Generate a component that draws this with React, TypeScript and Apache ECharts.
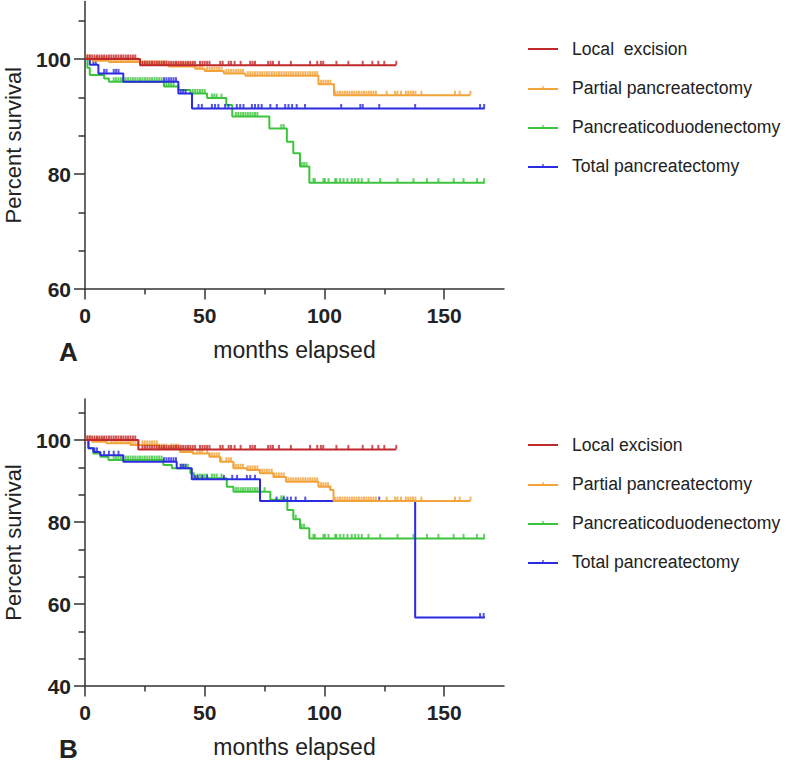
import React, { useEffect, useRef } from 'react';
import * as echarts from 'echarts';

const FONT = '"Liberation Sans", Arial, Helvetica, sans-serif';

const groupsA = ['Local  excision', 'Partial pancreatectomy', 'Pancreaticoduodenectomy', 'Total pancreatectomy'];
const groupsB = ['Local excision', 'Partial pancreatectomy', 'Pancreaticoduodenectomy', 'Total pancreatectomy'];
const colors = ['#c0282c', '#f2a33a', '#3cc43c', '#2b2be0'];

const xTicks = [0, 50, 100, 150];
const xMinorTicks = [25, 75, 125];
const yTicksA = [60, 80, 100];
const yMinorTicksA = [66.667, 73.333, 86.667, 93.333, 106.667];
const yTicksB = [40, 60, 80, 100];
const yMinorTicksB = [46.667, 53.333, 66.667, 73.333, 86.667, 93.333, 106.667];

// ---------- Panel A ----------
const redTimesA = [0, 23, 130];
const redSurvA = [100, 98.9, 98.9];
const orangeTimesA = [0, 3, 10, 23, 35, 46, 50, 58, 67, 97.5, 104, 161];
const orangeSurvA = [100, 99.7, 99.5, 99.0, 98.7, 98.3, 97.9, 97.5, 97.1, 95.6, 93.7, 93.7];
const greenTimesA = [0, 1, 2, 8, 10, 33, 39, 44, 51, 59, 61.5, 77, 84.3, 87, 89.8, 93.7, 167];
const greenSurvA = [100, 98.5, 97.2, 96.6, 96.05, 95.2, 94.6, 94.0, 93.2, 92.0, 90.0, 87.9, 85.6, 83.6, 81.3, 78.5, 78.5];
const blueTimesA = [0, 2, 5.6, 16, 39, 44.7, 167];
const blueSurvA = [100, 99.0, 97.5, 96.05, 94.0, 91.4, 91.4];

// ---------- Panel B ----------
const redTimesB = [0, 22.3, 130];
const redSurvB = [100, 97.7, 97.7];
const orangeTimesB = [0, 3, 9, 19, 31, 39.7, 45, 52, 56.4, 62, 67.6, 73, 78.7, 84, 97.5, 102.4, 103.8, 161];
const orangeSurvB = [100, 99.6, 99.2, 98.8, 98.0, 97.1, 96.7, 95.9, 94.7, 93.1, 92.7, 91.9, 91.0, 89.8, 88.6, 87.8, 85.1, 85.1];
const greenTimesB = [0, 1.5, 3.5, 6.4, 9.8, 32.7, 36.3, 44, 45.5, 59.2, 62, 77.4, 84.5, 87, 89.8, 93.7, 167];
const greenSurvB = [100, 98, 96.7, 95.9, 95.1, 93.9, 93.1, 91.9, 90.7, 88.6, 87.4, 85.4, 82.9, 80.7, 78.5, 76.0, 76.0];
const blueTimesB = [0, 1.4, 3.5, 6.4, 16, 38.3, 44.6, 73.1, 137.9, 167];
const blueSurvB = [100, 98, 97.1, 96.3, 94.7, 93.1, 90.4, 85.1, 56.7, 56.7];

// ---------- censored observations (months) ----------
const redCens = [1, 2, 3, 4, 5, 6, 7, 8, 9, 10, 11, 12, 13, 14, 15, 16, 17, 18, 19, 20, 21, 24, 25, 26, 27, 28, 29, 30, 31, 32, 33, 34, 35, 36, 37, 38, 39, 40, 41, 42, 43, 44, 45, 46, 48, 49, 50, 51, 52, 56.5, 57.5, 60, 61, 62.5, 65, 69, 70, 71, 76.5, 77.5, 78.5, 81, 86, 94, 97, 98.5, 99.5, 105, 110, 116, 120, 122.5, 125, 130];
const orangeCens = [1, 2, 4, 5, 6, 7, 8, 9, 11, 12, 13, 14, 15, 16, 17, 18, 19, 20, 21, 22, 24, 25, 26, 27, 28, 29, 30, 31, 32, 33, 34, 36, 37, 38, 39, 40, 41, 42, 43, 44, 45, 47, 48, 49, 51, 52, 53, 54, 55, 56, 57, 59, 60, 61, 62, 63, 64, 65, 66, 68, 69, 70, 71, 72, 73, 74, 75, 76, 77, 78, 79, 80, 81, 82, 83, 84, 85, 86, 87, 88, 89, 90, 91, 92, 93, 94, 95, 96, 97, 98.5, 99.5, 100.5, 101.5, 102.5, 104.5, 105.5, 106.5, 107.5, 108.5, 109.5, 110.5, 111.5, 112.5, 113.5, 114.5, 115.5, 116.5, 117.5, 118.5, 119.5, 120.5, 121.5, 126, 129.5, 130.5, 132, 134, 135, 136, 137, 138, 140.5, 154.5, 156.5, 161];
const greenCensA = [12, 13, 14, 15, 16, 17, 18, 19, 20, 21, 22, 23, 24, 25, 26, 27, 28, 29, 30, 31, 32, 34, 35, 36, 37, 45, 46, 47, 48, 49, 50, 53, 54, 55, 57, 63, 64, 65, 66, 67, 68, 69, 70, 71, 72, 82, 83, 90.5, 91.5, 92.5, 95.4, 96, 99.6, 100.2, 101.7, 104.5, 105, 106.6, 108, 109.6, 111.4, 112.8, 114.2, 115.6, 118.4, 123.3, 130.5, 137.2, 142.8, 147.6, 154, 158.1, 163.7, 166.7];
const greenCensB = [12, 13, 14, 15, 16, 17, 18, 19, 20, 21, 22, 23, 24, 25, 26, 27, 28, 29, 30, 31, 32, 40, 41, 42, 43, 47, 48, 49, 50, 51, 53, 54, 55, 57, 63, 64, 65, 66, 67, 68, 69, 70, 71, 72, 73, 75, 82, 83, 88, 90.5, 91.5, 95.4, 96, 99.6, 100.2, 101.7, 104.5, 105, 106.6, 108, 109.6, 111.4, 112.8, 114.2, 115.6, 118.4, 123.3, 130.5, 137.2, 142.8, 147.6, 154, 158.1, 163.7, 166.7];
const blueCensA = [3.5, 4.5, 8, 9, 12, 13, 14, 33, 34, 35, 36, 37, 38, 40, 41, 42, 47.4, 48.8, 53, 54.3, 55.7, 58.5, 59.9, 63.4, 64.8, 66.2, 69.7, 71, 72.4, 73.8, 77.4, 80.1, 83.6, 85, 86.5, 88.4, 91.9, 107, 115, 116, 122.9, 137.9, 165, 166.7];
const blueCensB = [4, 5, 8, 10, 12, 14, 33, 34, 35, 36, 37, 38, 40, 41, 42, 46, 47, 49, 51, 58, 61.5, 63.5, 67.6, 69, 71, 80, 83, 84.5, 86, 88, 92, 122.9, 165, 166.5];

const iconPlain = 'path://M0,5L30,5L30,7L0,7Z';
const iconTick = 'path://M0,5L30,5L30,7L0,7ZM14.4,3L15.6,3L15.6,7L14.4,7Z';

function stepAt(times: number[], surv: number[], t: number) {
  let v = surv[0];
  for (let i = 0; i < times.length; i++) {
    if (times[i] <= t) v = surv[i];
    else break;
  }
  return v;
}

type Curve = { name: string; color: string; times: number[]; surv: number[]; cens: number[] };

function buildSeries(curves: Curve[], axisIndex: number) {
  const out: any[] = [];
  curves.forEach((c, i) => {
    out.push({
      type: 'line',
      name: c.name,
      xAxisIndex: axisIndex,
      yAxisIndex: axisIndex,
      data: c.times.map((t, k) => [t, c.surv[k]]),
      step: 'end',
      symbol: 'none',
      showSymbol: false,
      lineStyle: { color: c.color, width: 2 },
      itemStyle: { color: c.color },
      z: 2 + i,
      silent: true,
    });
    out.push({
      type: 'scatter',
      name: c.name + '_censored',
      xAxisIndex: axisIndex,
      yAxisIndex: axisIndex,
      data: c.cens.map((t) => [t, stepAt(c.times, c.surv, t)]),
      symbol: 'rect',
      symbolSize: [2, 4],
      symbolOffset: [0, -2.5],
      itemStyle: { color: c.color },
      z: 2 + i,
      silent: true,
    });
  });
  return out;
}

const axisLineStyle = { color: '#333', width: 1.5 };
const tickLabel = { fontFamily: FONT, fontSize: 21, fontWeight: 'bold' as const, color: '#222' };

function xAxes(gridIndex: number) {
  return [
    {
      type: 'value', gridIndex, min: 0, max: 175, interval: 25, position: 'bottom',
      axisLine: { show: true, lineStyle: axisLineStyle },
      axisTick: { show: true, customValues: xTicks, length: 10.5, lineStyle: axisLineStyle },
      axisLabel: { ...tickLabel, customValues: xTicks, margin: 16 },
      splitLine: { show: false },
      name: 'months elapsed', nameLocation: 'middle', nameGap: 49,
      nameTextStyle: { fontFamily: FONT, fontSize: 23, color: '#222' },
    },
    {
      type: 'value', gridIndex, min: 0, max: 175, interval: 25, position: 'bottom',
      axisLine: { show: false },
      axisTick: { show: true, customValues: xMinorTicks, length: 5.5, lineStyle: axisLineStyle },
      axisLabel: { show: false },
      splitLine: { show: false },
    },
  ];
}

function yAxes(gridIndex: number, min: number, ticks: number[], minor: number[]) {
  return [
    {
      type: 'value', gridIndex, min, max: 110, interval: 10, position: 'left',
      axisLine: { show: true, lineStyle: axisLineStyle },
      axisTick: { show: true, customValues: ticks, length: 11, lineStyle: axisLineStyle },
      axisLabel: { ...tickLabel, customValues: ticks, margin: 14 },
      splitLine: { show: false },
      name: 'Percent survival', nameLocation: 'middle', nameGap: 61,
      nameTextStyle: { fontFamily: FONT, fontSize: 22, color: '#222' },
    },
    {
      type: 'value', gridIndex, min, max: 110, interval: 10, position: 'left', offset: 0,
      axisLine: { show: false },
      axisTick: { show: true, customValues: minor, length: 6.5, lineStyle: axisLineStyle },
      axisLabel: { show: false },
      splitLine: { show: false },
    },
  ];
}

function legendFor(names: string[], top: number) {
  return {
    data: names.map((n, i) => ({ name: n, icon: i === 0 ? iconPlain : iconTick })),
    orient: 'vertical',
    left: 523,
    top,
    itemWidth: 30,
    itemHeight: 14,
    itemGap: 19,
    selectedMode: false,
    textStyle: { fontFamily: FONT, fontSize: 17.6, color: '#222', lineHeight: 20, padding: [0, 0, 0, 9] },
  };
}

export default function App() {
  const ref = useRef<HTMLDivElement>(null);
  useEffect(() => {
    if (!ref.current) return;
    const chart = echarts.init(ref.current, undefined, { renderer: 'svg' });
    const curvesA: Curve[] = [
      { name: groupsA[2], color: colors[2], times: greenTimesA, surv: greenSurvA, cens: greenCensA },
      { name: groupsA[3], color: colors[3], times: blueTimesA, surv: blueSurvA, cens: blueCensA },
      { name: groupsA[1], color: colors[1], times: orangeTimesA, surv: orangeSurvA, cens: orangeCens },
      { name: groupsA[0], color: colors[0], times: redTimesA, surv: redSurvA, cens: redCens },
    ];
    const curvesB: Curve[] = [
      { name: groupsB[2], color: colors[2], times: greenTimesB, surv: greenSurvB, cens: greenCensB },
      { name: groupsB[3], color: colors[3], times: blueTimesB, surv: blueSurvB, cens: blueCensB },
      { name: groupsB[1], color: colors[1], times: orangeTimesB, surv: orangeSurvB, cens: orangeCens },
      { name: groupsB[0], color: colors[0], times: redTimesB, surv: redSurvB, cens: redCens },
    ];
    chart.setOption({
      animation: false,
      backgroundColor: '#ffffff',
      grid: [
        { left: 85, top: 1.5, width: 419, height: 287.5, outerBoundsMode: 'none', containLabel: false },
        { left: 85, top: 399, width: 419, height: 287, outerBoundsMode: 'none', containLabel: false },
      ],
      xAxis: [...xAxes(0), ...xAxes(1)],
      yAxis: [...yAxes(0, 60, yTicksA, yMinorTicksA), ...yAxes(1, 40, yTicksB, yMinorTicksB)],
      legend: [legendFor(groupsA, 34), legendFor(groupsB, 430)],
      series: [
        ...buildSeries(curvesA, 0),
        ...buildSeries(curvesB, 2),
      ],
      graphic: [
        { type: 'text', left: 59, top: 339, style: { text: 'A', fontFamily: FONT, fontSize: 26, fontWeight: 'bold', fill: '#222' } },
        { type: 'text', left: 59, top: 736, style: { text: 'B', fontFamily: FONT, fontSize: 26, fontWeight: 'bold', fill: '#222' } },
      ],
    });
    return () => chart.dispose();
  }, []);
  return <div ref={ref} style={{ position: 'absolute', left: 0, top: 0, width: 787, height: 763 }} />;
}
